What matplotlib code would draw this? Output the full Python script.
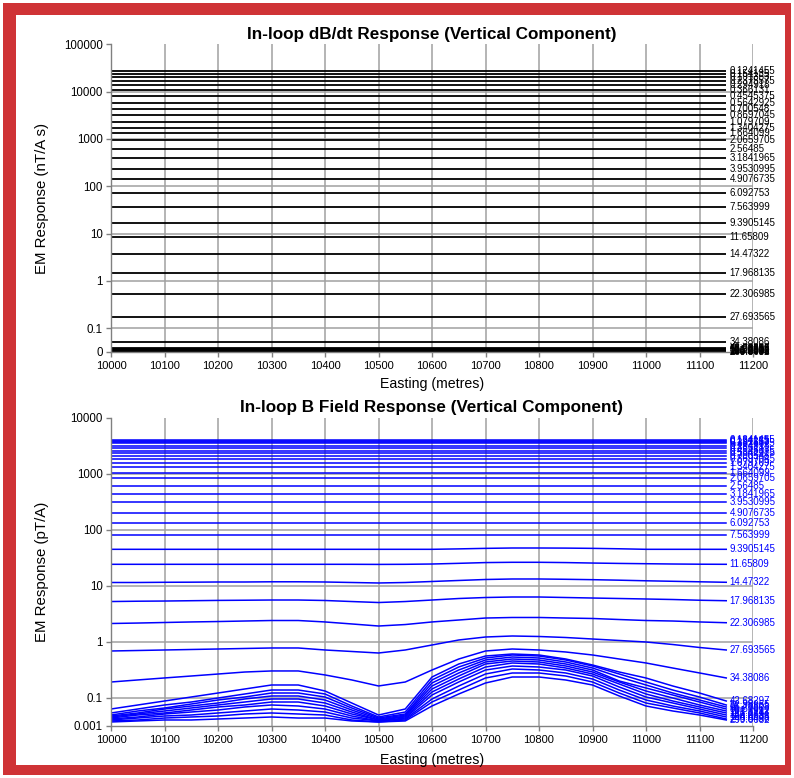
import numpy as np
import matplotlib
matplotlib.use('Agg')
import matplotlib.pyplot as plt
from matplotlib.patches import Rectangle
from matplotlib.ticker import FixedLocator, FixedFormatter, NullLocator

plt.rcParams['font.family'] = ['Liberation Sans', 'DejaVu Sans']

# ---------------- data ----------------
easting = [10000, 10050, 10100, 10150, 10200, 10250, 10300, 10350, 10400, 10450,
           10500, 10550, 10600, 10650, 10700, 10750, 10800, 10850, 10900, 10950,
           11000, 11050, 11100, 11150]

gate_labels = ["0.1241455", "0.154135", "0.191353", "0.2375575", "0.294918", "0.366131",
               "0.4545375", "0.5642925", "0.700548", "0.8697045", "1.079709", "1.3404275",
               "1.664099", "2.0659705", "2.56485", "3.1841965", "3.9530995", "4.9076735",
               "6.092753", "7.563999", "9.3905145", "11.65809", "14.47322", "17.968135",
               "22.306985", "27.693565", "34.38086", "42.68297", "52.98955", "65.78508",
               "81.6706", "101.3912", "125.8743", "156.2691", "194.0035", "240.8496",
               "299.0082"]

# dB/dt (nT/A s) - flat along the line for every gate
dbdt_values = [27900, 23230, 20380, 16990, 14120, 10810, 7880, 5825, 4225, 3200,
               2310, 1725, 1352, 950, 603, 389, 231, 140, 70.8, 37.2,
               16.9, 8.31, 3.63, 1.44, 0.533, 0.169, 0.0516, 0.038, 0.0365, 0.0355,
               0.0345, 0.034, 0.0335, 0.033, 0.0325, 0.032, 0.0318]

# B field (pT/A) - early gates flat along the line
bfield_flat = [4130, 3963, 3758, 3533, 3162, 2877, 2606, 2342, 2096, 1830,
               1552, 1317, 1055, 860, 611, 439, 320, 204, 132, 80.4]

# B field (pT/A) - later gates, one value per station
bf_g20 = [45.2, 45.2, 45.2, 45.2, 45.2, 45.2, 45.2, 45.2, 45.2, 45.2, 45.2, 45.2,
          45.2, 46.0, 47.0, 47.7, 47.7, 47.5, 47.0, 46.2, 45.2, 45.2, 45.2, 45.2]
bf_g21 = [24.4, 24.4, 24.4, 24.4, 24.4, 24.4, 24.4, 24.4, 24.4, 24.4, 24.3, 24.4,
          24.7, 25.4, 26.2, 26.5, 26.5, 26.2, 25.7, 25.3, 25.0, 24.7, 24.5, 24.4]
bf_g22 = [11.55, 11.55, 11.65, 11.70, 11.79, 11.79, 11.89, 11.89, 11.79, 11.55, 11.32, 11.55,
          12.04, 12.55, 13.07, 13.34, 13.34, 13.18, 12.97, 12.70, 12.39, 12.14, 11.89, 11.65]
bf_g23 = [5.28, 5.35, 5.39, 5.46, 5.53, 5.57, 5.62, 5.62, 5.51, 5.28, 5.07, 5.28,
          5.62, 5.98, 6.23, 6.36, 6.36, 6.23, 6.10, 5.98, 5.86, 5.74, 5.57, 5.46]
bf_g24 = [2.14, 2.18, 2.23, 2.28, 2.32, 2.37, 2.42, 2.42, 2.28, 2.10, 1.93, 2.05,
          2.28, 2.47, 2.68, 2.74, 2.74, 2.68, 2.63, 2.52, 2.42, 2.37, 2.28, 2.21]
bf_g25 = [0.691, 0.705, 0.720, 0.735, 0.750, 0.766, 0.782, 0.782, 0.720, 0.677, 0.636, 0.720,
          0.884, 1.086, 1.228, 1.280, 1.254, 1.203, 1.131, 1.064, 1.000, 0.902, 0.798, 0.720]
bf_g26 = [0.193, 0.210, 0.228, 0.247, 0.268, 0.291, 0.304, 0.304, 0.258, 0.210, 0.164, 0.193,
          0.316, 0.497, 0.691, 0.750, 0.720, 0.663, 0.586, 0.497, 0.422, 0.343, 0.280, 0.228]
bf_g27 = [0.0636, 0.0750, 0.0884, 0.1042, 0.1228, 0.1448, 0.1707, 0.1707, 0.1334, 0.0814, 0.0497, 0.0636,
          0.2371, 0.4047, 0.5623, 0.6105, 0.5859, 0.4971, 0.3884, 0.2913, 0.2276, 0.1638, 0.1228, 0.0884]
bf_g28 = [0.0540, 0.0636, 0.0750, 0.0848, 0.1000, 0.1179, 0.1389, 0.1389, 0.1179, 0.0720, 0.0458, 0.0562,
          0.2096, 0.3577, 0.5179, 0.5859, 0.5623, 0.4771, 0.3728, 0.2683, 0.1931, 0.1389, 0.1042, 0.0750]
bf_g29 = [0.0497, 0.0586, 0.0663, 0.0781, 0.0921, 0.1042, 0.1228, 0.1228, 0.1042, 0.0663, 0.0439, 0.0518,
          0.1853, 0.3162, 0.4771, 0.5397, 0.5179, 0.4394, 0.3433, 0.2371, 0.1707, 0.1228, 0.0921, 0.0691]
bf_g30 = [0.0477, 0.0540, 0.0636, 0.0720, 0.0814, 0.0960, 0.1086, 0.1086, 0.0921, 0.0610, 0.0422, 0.0497,
          0.1638, 0.2795, 0.4394, 0.4971, 0.4771, 0.4047, 0.3162, 0.2012, 0.1509, 0.1131, 0.0848, 0.0636]
bf_g31 = [0.0458, 0.0518, 0.0586, 0.0663, 0.0750, 0.0848, 0.0960, 0.0960, 0.0814, 0.0562, 0.0405, 0.0477,
          0.1448, 0.2471, 0.4047, 0.4578, 0.4394, 0.3728, 0.2913, 0.1931, 0.1334, 0.1000, 0.0750, 0.0586]
bf_g32 = [0.0439, 0.0497, 0.0540, 0.0610, 0.0691, 0.0750, 0.0848, 0.0848, 0.0720, 0.0518, 0.0405, 0.0458,
          0.1280, 0.2184, 0.3577, 0.4217, 0.4047, 0.3433, 0.2683, 0.1778, 0.1179, 0.0884, 0.0691, 0.0540]
bf_g33 = [0.0422, 0.0458, 0.0518, 0.0562, 0.0610, 0.0691, 0.0750, 0.0720, 0.0636, 0.0477, 0.0389, 0.0439,
          0.1131, 0.1931, 0.3162, 0.3728, 0.3577, 0.3162, 0.2471, 0.1572, 0.1042, 0.0814, 0.0636, 0.0497]
bf_g34 = [0.0405, 0.0439, 0.0477, 0.0497, 0.0540, 0.0586, 0.0636, 0.0610, 0.0562, 0.0439, 0.0389, 0.0422,
          0.0960, 0.1638, 0.2683, 0.3295, 0.3162, 0.2795, 0.2184, 0.1389, 0.0921, 0.0720, 0.0586, 0.0458]
bf_g35 = [0.0389, 0.0405, 0.0439, 0.0458, 0.0477, 0.0518, 0.0540, 0.0518, 0.0497, 0.0405, 0.0373, 0.0405,
          0.0848, 0.1389, 0.2276, 0.2795, 0.2795, 0.2471, 0.1931, 0.1228, 0.0814, 0.0663, 0.0540, 0.0422]
bf_g36 = [0.0373, 0.0389, 0.0405, 0.0405, 0.0422, 0.0439, 0.0458, 0.0439, 0.0439, 0.0389, 0.0373, 0.0389,
          0.0720, 0.1179, 0.1853, 0.2371, 0.2371, 0.2096, 0.1707, 0.1086, 0.0720, 0.0586, 0.0497, 0.0405]

bfield_profiles = [bf_g20, bf_g21, bf_g22, bf_g23, bf_g24, bf_g25, bf_g26, bf_g27, bf_g28,
                   bf_g29, bf_g30, bf_g31, bf_g32, bf_g33, bf_g34, bf_g35, bf_g36]

x_ticks = [10000, 10100, 10200, 10300, 10400, 10500, 10600, 10700, 10800, 10900, 11000, 11100, 11200]
x_ticklabels = ["10000", "10100", "10200", "10300", "10400", "10500", "10600", "10700",
                "10800", "10900", "11000", "11100", "11200"]
top_yticks = [10 ** -1.5, 0.1, 1, 10, 100, 1000, 10000, 100000]
top_yticklabels = ["0", "0.1", "1", "10", "100", "1000", "10000", "100000"]
bot_yticks = [10 ** -1.5, 0.1, 1, 10, 100, 1000, 10000]
bot_yticklabels = ["0.001", "0.1", "1", "10", "100", "1000", "10000"]

# ---------------- figure ----------------
W, H = 794, 778
fig = plt.figure(figsize=(W / 100, H / 100), dpi=100)
fig.patches.append(Rectangle((3 / W, 3 / H), 788 / W, 772 / H, transform=fig.transFigure,
                             facecolor='#CF3336', edgecolor='none', zorder=-10))
fig.patches.append(Rectangle((16 / W, 13 / H), 769 / W, 750 / H, transform=fig.transFigure,
                             facecolor='white', edgecolor='none', zorder=-9))

ax1 = fig.add_axes([111 / W, (H - 351.75) / H, 642 / W, 307.45 / H])
ax2 = fig.add_axes([111 / W, (H - 726) / H, 642 / W, 308 / H])

GRID = '#A0A0A0'
SPINE = '#808080'


def style(ax, yticks, yticklabels, ymax, title, ylabel):
    ax.set_facecolor('none')
    ax.set_xlim(10000, 11200)
    ax.set_yscale('log')
    ax.set_ylim(10 ** -1.5, ymax)
    ax.xaxis.set_major_locator(FixedLocator(x_ticks))
    ax.xaxis.set_major_formatter(FixedFormatter(x_ticklabels))
    ax.yaxis.set_major_locator(FixedLocator(yticks))
    ax.yaxis.set_major_formatter(FixedFormatter(yticklabels))
    ax.yaxis.set_minor_locator(NullLocator())
    ax.xaxis.set_minor_locator(NullLocator())
    for sp in ['top', 'right']:
        ax.spines[sp].set_visible(False)
    for sp in ['left', 'bottom']:
        ax.spines[sp].set_color(SPINE)
        ax.spines[sp].set_linewidth(1.0)
    ax.tick_params(axis='both', direction='out', length=3.5, width=1.0, color=SPINE)
    ax.tick_params(axis='y', labelsize=8.3, pad=2.5)
    ax.tick_params(axis='x', labelsize=8.0, pad=3)
    for xv in x_ticks[1:]:
        ax.axvline(xv, color=GRID, lw=1.1, zorder=0.5)
    for yv in yticks[1:-1]:
        ax.axhline(yv, color=GRID, lw=1.1, zorder=0.5)
    ax.set_title(title, fontsize=12.3, fontweight='bold', pad=4)
    ax.set_xlabel('Easting (metres)', fontsize=10.2)
    ax.set_ylabel(ylabel, fontsize=10.8)
    ax.yaxis.set_label_coords(-0.1075, 0.5)
    ax.yaxis.label.set_verticalalignment('center')


style(ax1, top_yticks, top_yticklabels, 100000,
      'In-loop dB/dt Response (Vertical Component)', 'EM Response (nT/A s)')
style(ax2, bot_yticks, bot_yticklabels, 10000,
      'In-loop B Field Response (Vertical Component)', 'EM Response (pT/A)')
ax1.xaxis.set_label_coords(0.5, -32 / 307.45)
ax1.xaxis.label.set_verticalalignment('center')
ax2.xaxis.set_label_coords(0.5, -34 / 308)
ax2.xaxis.label.set_verticalalignment('center')

label_font = ['Liberation Sans', 'DejaVu Sans']

# top: dB/dt
x_arr = np.array(easting, dtype=float)
for lab, v in zip(gate_labels, dbdt_values):
    y = np.full(len(easting), v, dtype=float)
    ax1.plot(x_arr, y, color='black', lw=1.3, zorder=2, solid_capstyle='butt')
    ax1.annotate(lab, xy=(x_arr[-1], y[-1]), xytext=(2.5, 0), textcoords='offset points',
                 ha='left', va='center', fontsize=7, color='black',
                 family=label_font, annotation_clip=False)

# bottom: B field
b_series = [np.full(len(easting), v, dtype=float) for v in bfield_flat] + \
           [np.array(p, dtype=float) for p in bfield_profiles]
for lab, y in zip(gate_labels, b_series):
    ax2.plot(x_arr, y, color='#0000FF', lw=1.1, zorder=2)
    ax2.annotate(lab, xy=(x_arr[-1], y[-1]), xytext=(2.5, 0), textcoords='offset points',
                 ha='left', va='center', fontsize=7, color='#0000FF',
                 family=label_font, annotation_clip=False)

fig.savefig('out.png', dpi=100, facecolor='white')
